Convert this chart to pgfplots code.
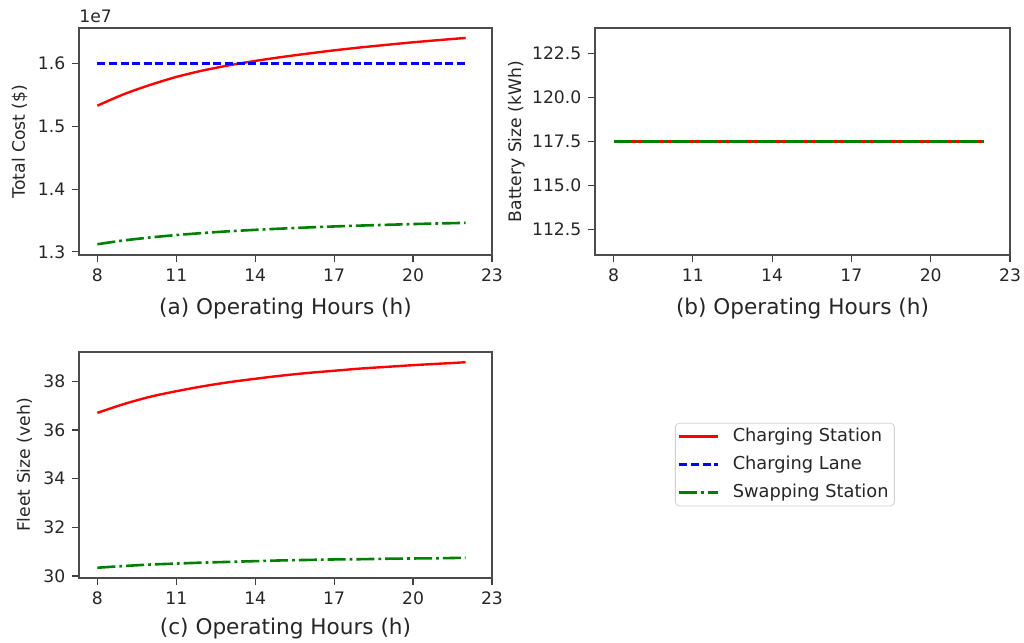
\documentclass[border=0pt]{standalone}
\usepackage{fontspec}
\setmainfont{DejaVu Sans}
\usepackage{pgfplots}
\pgfplotsset{compat=1.18}

\definecolor{mplred}{RGB}{255,0,0}
\definecolor{mplblue}{RGB}{0,0,255}
\definecolor{mplgreen}{RGB}{0,128,0}

% Total cost (in units of 1e7 $) versus operating hours
\pgfplotstableread{
h   station  lane   swap
8   1.5330   1.6    1.3122
9   1.5512   1.6    1.3182
10  1.5660   1.6    1.3229
11  1.5788   1.6    1.3268
12  1.5890   1.6    1.3300
13  1.5973   1.6    1.3328
14  1.6043   1.6    1.3351
15  1.6105   1.6    1.3371
16  1.6160   1.6    1.3389
17  1.6212   1.6    1.3405
18  1.6258   1.6    1.3419
19  1.6300   1.6    1.3431
20  1.6340   1.6    1.3443
21  1.6376   1.6    1.3453
22  1.6410   1.6    1.3462
}\costtable

% Battery size (kWh)
\pgfplotstableread{
h   station  swap
8   117.5    117.5
11  117.5    117.5
14  117.5    117.5
17  117.5    117.5
20  117.5    117.5
22  117.5    117.5
}\batterytable

% Fleet size (veh)
\pgfplotstableread{
h   station  swap
8   36.70    30.34
9   37.06    30.41
10  37.36    30.47
11  37.59    30.51
12  37.79    30.55
13  37.96    30.58
14  38.10    30.61
15  38.23    30.64
16  38.34    30.66
17  38.43    30.68
18  38.52    30.69
19  38.59    30.71
20  38.66    30.72
21  38.72    30.73
22  38.78    30.75
}\fleettable

\pgfplotsset{
  panel/.style={
    scale only axis,
    xmin=7.3, xmax=23,
    xtick={8,11,14,17,20,23},
    tick pos=left,
    tick align=outside,
    major tick length=3.3pt,
    tick style={black!75, line width=0.6pt},
    axis line style={black!70, line width=0.8pt},
    ticklabel style={font=\fontsize{8.6}{10}\selectfont, text=black!85},
    /pgf/number format/assume math mode=true,
    xlabel style={font=\fontsize{10.8}{12}\selectfont, text=black!85, anchor=base},
    ylabel style={font=\fontsize{8.6}{10}\selectfont, text=black!85, anchor=base},
  },
  station/.style={mplred, line width=1.2pt, smooth},
  lane/.style={mplblue, line width=1.15pt, dash pattern=on 4pt off 1.8pt},
  swap/.style={mplgreen, line width=1.3pt, smooth, dash pattern=on 9pt off 2pt on 1.4pt off 2pt},
}

\begin{document}
\begin{tikzpicture}
\useasboundingbox (0,0) rectangle (512pt,321.5pt);

% (a) total cost
\begin{axis}[panel, name=costaxis,
  at={(39.5pt,194pt)}, anchor=south west,
  width=206.5pt, height=113.5pt,
  ymin=1.2950, ymax=1.6568,
  ytick={1.3,1.4,1.5,1.6},
  yticklabel style={/pgf/number format/.cd, fixed, fixed zerofill, precision=1},
  xlabel={(a) Operating Hours (h)},
  xlabel style={at={(axis description cs:0.5,-0.264)}},
  ylabel={Total Cost (\$)},
  ylabel style={at={(axis description cs:-0.131,0.5)}},
  legend cell align=left,
  legend image code/.code={\draw[#1] (0pt,0pt) -- (19.5pt,0pt); \path (0pt,0pt) (24.5pt,0pt);},
  legend style={at={(1.443,-0.739)}, anchor=north west,
    draw=black!18, rounded corners=2pt, fill=white,
    font=\fontsize{8.9}{10}\selectfont, text=black!85,
    inner xsep=1.4pt, inner ysep=1pt, row sep=2.8pt,
    nodes={inner sep=1.5pt}},
]
\addplot[station] table[x=h, y=station] {\costtable};
\addlegendentry{Charging Station}
\addplot[lane] table[x=h, y=lane] {\costtable};
\addlegendentry{Charging Lane}
\addplot[swap] table[x=h, y=swap] {\costtable};
\addlegendentry{Swapping Station}
\end{axis}
% offset text of the cost axis
\node[anchor=base west, inner sep=0pt, font=\fontsize{8.6}{10}\selectfont, text=black!85]
  at ([yshift=2.6pt]costaxis.north west) {1e7};

% (b) battery size
\begin{axis}[panel,
  at={(297.5pt,194pt)}, anchor=south west,
  width=207.5pt, height=113.5pt,
  ymin=111.04, ymax=123.96,
  ytick={112.5,115,117.5,120,122.5},
  yticklabel style={/pgf/number format/.cd, fixed, fixed zerofill, precision=1},
  xlabel={(b) Operating Hours (h)},
  xlabel style={at={(axis description cs:0.5,-0.264)}},
  ylabel={Battery Size (kWh)},
  ylabel style={at={(axis description cs:-0.178,0.5)}},
]
\addplot[station] table[x=h, y=station] {\batterytable};
\addplot[swap] table[x=h, y=swap] {\batterytable};
\end{axis}

% (c) fleet size
\begin{axis}[panel,
  at={(39.5pt,32.5pt)}, anchor=south west,
  width=206.5pt, height=113pt,
  ymin=29.918, ymax=39.20,
  ytick={30,32,34,36,38},
  xlabel={(c) Operating Hours (h)},
  xlabel style={at={(axis description cs:0.5,-0.252)}},
  ylabel={Fleet Size (veh)},
  ylabel style={at={(axis description cs:-0.119,0.5)}},
]
\addplot[station] table[x=h, y=station] {\fleettable};
\addplot[swap] table[x=h, y=swap] {\fleettable};
\end{axis}
\end{tikzpicture}
\end{document}
